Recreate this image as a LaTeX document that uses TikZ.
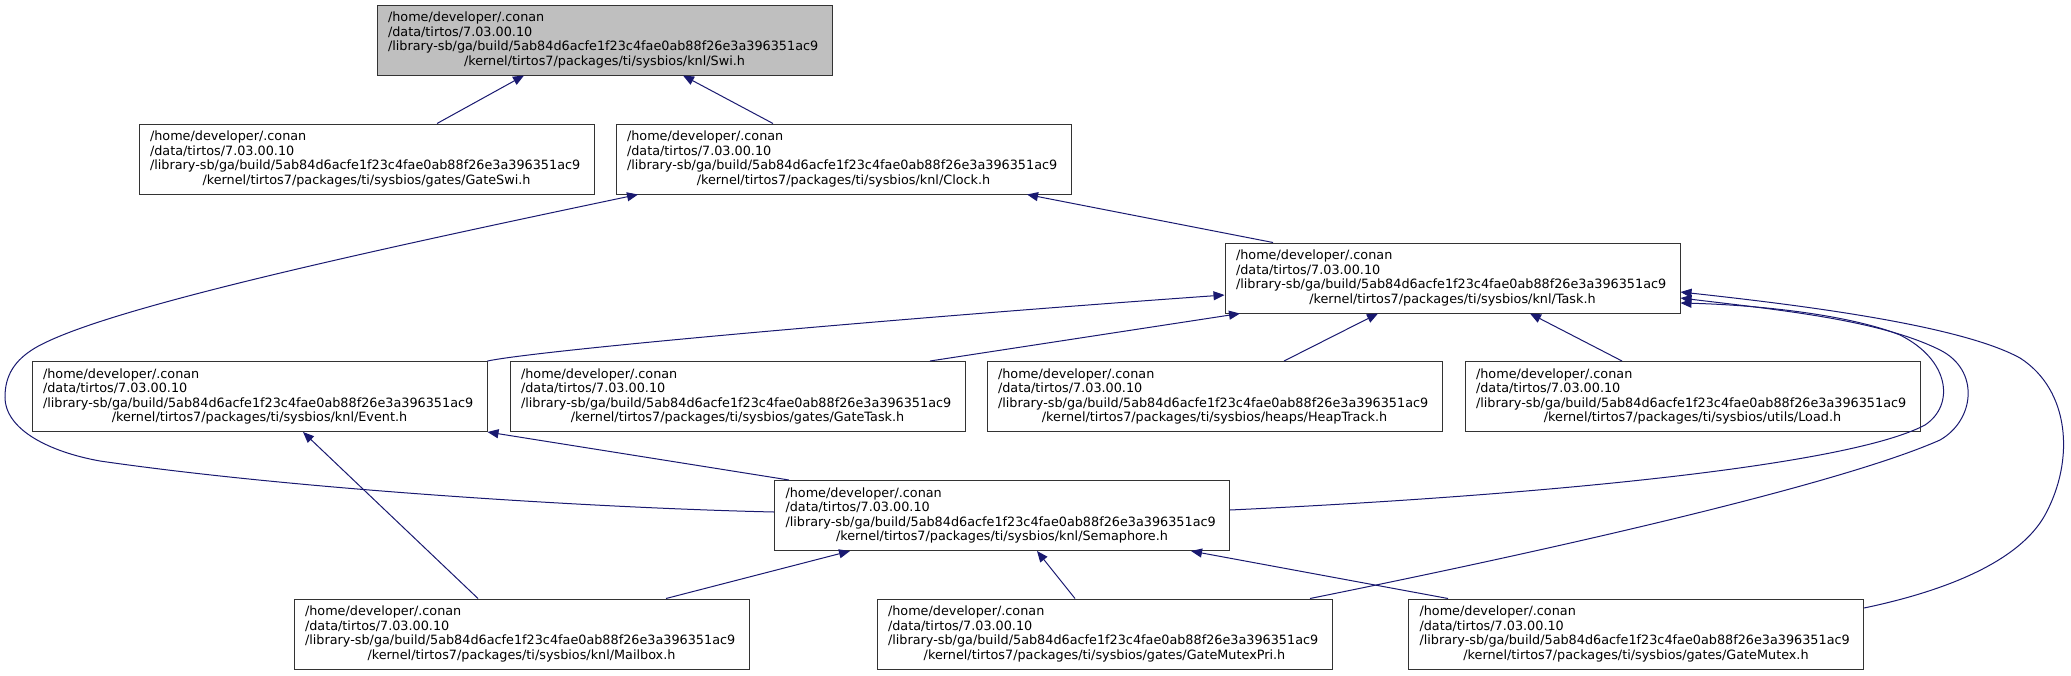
\documentclass[tikz,border=0pt]{standalone}
\usepackage{fontspec}
\setmainfont{DejaVu Sans}
\usetikzlibrary{arrows.meta}
\definecolor{edgeblue}{HTML}{191970}
\definecolor{swigray}{HTML}{BFBFBF}
\newcommand\flabel[1]{\begin{minipage}{433pt}\fontsize{12.8}{14.5}\selectfont\raggedright
/home/developer/.conan\\
/data/tirtos/7.03.00.10\\
/library-sb/ga/build/5ab84d6acfe1f23c4fae0ab88f26e3a396351ac9\\
\makebox[433pt][c]{/kernel/tirtos7/packages/ti/sysbios/#1}\end{minipage}}
\tikzset{
  filebox/.style={draw=black!80, line width=1pt, rectangle, minimum width=455pt,
    minimum height=70pt, inner sep=0pt, fill=white},
  inc/.style={draw=edgeblue, line width=1pt, -{Triangle[length=11pt,width=9pt]}}
}
\begin{document}
\begin{tikzpicture}[x=1pt,y=-1pt]
\useasboundingbox (0,0) rectangle (2071,675);
\node[filebox, fill=swigray] (Swi) at (604.5,40) {\flabel{knl/Swi.h}};
\node[filebox] (GateSwi) at (366.5,159) {\flabel{gates/GateSwi.h}};
\node[filebox] (Clock) at (843.5,159) {\flabel{knl/Clock.h}};
\node[filebox] (Task) at (1452.5,278) {\flabel{knl/Task.h}};
\node[filebox] (Event) at (259.5,396.5) {\flabel{knl/Event.h}};
\node[filebox] (GateTask) at (737.5,396.5) {\flabel{gates/GateTask.h}};
\node[filebox] (HeapTrack) at (1214.5,396.5) {\flabel{heaps/HeapTrack.h}};
\node[filebox] (Load) at (1692.5,396.5) {\flabel{utils/Load.h}};
\node[filebox] (Semaphore) at (1002,515.5) {\flabel{knl/Semaphore.h}};
\node[filebox] (Mailbox) at (521.5,634) {\flabel{knl/Mailbox.h}};
\node[filebox] (GateMutexPri) at (1104.5,634) {\flabel{gates/GateMutexPri.h}};
\node[filebox] (GateMutex) at (1636,634) {\flabel{gates/GateMutex.h}};

\draw[inc] ([xshift=70.5pt]GateSwi.north) -- ([xshift=-80.5pt]Swi.south);
\draw[inc] ([xshift=-70.5pt]Clock.north) -- ([xshift=78.5pt]Swi.south);
\draw[inc] ([xshift=-179.5pt]Task.north) -- ([xshift=183.5pt]Clock.south);
\draw[inc] ([yshift=3.5pt]Semaphore.west) .. controls (600,508) and (300,490) .. (100,461)
  .. controls (50,452) and (5,430) .. (5,397)
  .. controls (5,375) and (15,360) .. (35,348)
  .. controls (100,310) and (350,255) .. ([xshift=-205.5pt]Clock.south);
\draw[inc] (Event.north east) .. controls (540,350) and (900,318) .. ([yshift=-17pt]Task.west);
\draw[inc] ([xshift=192.5pt]GateTask.north) -- ([xshift=-212.5pt]Task.south);
\draw[inc] ([xshift=69.5pt]HeapTrack.north) -- ([xshift=-74.5pt]Task.south);
\draw[inc] ([xshift=-70.5pt]Load.north) -- ([xshift=77.5pt]Task.south);
\draw[inc] ([yshift=5.5pt]Semaphore.east) .. controls (1550,495) and (1850,465) .. (1925,425)
  .. controls (1955,405) and (1950,360) .. (1900,335)
  .. controls (1850,315) and (1760,305) .. ([yshift=-25pt]Task.east);
\draw[inc] ([xshift=205.5pt]GateMutexPri.north) .. controls (1600,540) and (1850,480) .. (1940,440)
  .. controls (1975,420) and (1980,370) .. (1940,350)
  .. controls (1880,320) and (1780,310) .. ([yshift=-20pt]Task.east);
\draw[inc] ([yshift=26pt]GateMutex.east) .. controls (1950,590) and (2020,560) .. (2045,515)
  .. controls (2075,460) and (2070,390) .. (2020,358)
  .. controls (1960,325) and (1800,305) .. ([yshift=-14pt]Task.east);
\draw[inc] ([xshift=15pt]Semaphore.north west) -- (Event.south east);
\draw[inc] ([xshift=-43.5pt]Mailbox.north) -- ([xshift=43.5pt]Event.south);
\draw[inc] ([xshift=144.5pt]Mailbox.north) -- ([xshift=-152pt]Semaphore.south);
\draw[inc] ([xshift=-29.5pt]GateMutexPri.north) -- ([xshift=35pt]Semaphore.south);
\draw[inc] ([xshift=-188pt]GateMutex.north) -- ([xshift=189pt]Semaphore.south);
\end{tikzpicture}
\end{document}
